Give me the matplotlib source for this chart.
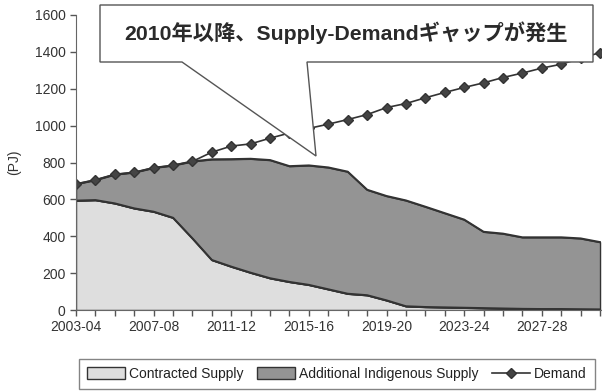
import matplotlib
matplotlib.use("Agg")
import matplotlib.pyplot as plt
import numpy as np

plt.rcParams['font.family'] = ['Liberation Sans', 'Noto Sans CJK JP', 'DejaVu Sans']

# fiscal years 2003-04 .. 2030-31
years = ["%d-%02d" % (y, (y + 1) % 100) for y in range(2003, 2031)]

contracted = [593, 596, 578, 551, 533, 500, 388, 271, 235, 202, 172, 152, 136, 112,
              88, 80, 52, 20, 16, 14, 12, 10, 8, 6, 5, 5, 4, 3]
additional = [90, 109, 157, 195, 238, 284, 418, 546, 583, 618, 641, 628, 648, 661,
              662, 572, 566, 574, 544, 511, 478, 414, 406, 388, 389, 389, 384, 365]
demand = [683, 705, 735, 746, 771, 784, 806, 856, 889, 901, 932, 960, 985, 1008,
          1033, 1060, 1098, 1120, 1151, 1180, 1207, 1232, 1261, 1285, 1312, 1333, 1365, 1396]

series_names = ["Contracted Supply", "Additional Indigenous Supply", "Demand"]
callout_text = "2010年以降、Supply-Demandギャップが発生"

W, H = 602, 392
fig = plt.figure(figsize=(W / 100, H / 100), dpi=100)
ax = fig.add_axes([76 / W, 1 - 310 / H, 525 / W, 295 / H])

x = np.arange(len(years))
total = np.array(contracted) + np.array(additional)

ax.fill_between(x, 0, contracted, color="#dedede", lw=0, label=series_names[0])
ax.fill_between(x, contracted, total, color="#949494", lw=0, label=series_names[1])
ax.plot(x, contracted, color="#333333", lw=1.5)
ax.plot(x, total, color="#333333", lw=1.5)
ax.plot(x, demand, color="#333333", lw=1.2, marker="D", ms=5.5,
        markerfacecolor="#444444", markeredgecolor="#333333", label=series_names[2])

ax.set_xlim(0, len(years) - 0.95)
ax.set_ylim(0, 1600)
ax.set_yticks(range(0, 1601, 200))
ax.set_xticks(x)
ax.set_xticklabels([y if i % 4 == 0 else "" for i, y in enumerate(years)])
ax.tick_params(axis="both", colors="#555555", labelcolor="#333333", labelsize=10,
               length=4, width=1)
for s in ["top", "right"]:
    ax.spines[s].set_visible(False)
for s in ["left", "bottom"]:
    ax.spines[s].set_color("#666666")
ax.set_ylabel("(PJ)", fontsize=10, color="#333333", labelpad=10)

# callout box with pointer
pts = [(100, 5), (593, 5), (593, 62), (307, 62), (316, 156), (182, 62), (100, 62)]
poly = plt.Polygon([(px / W, 1 - py / H) for px, py in pts], closed=True,
                   transform=fig.transFigure, facecolor="white",
                   edgecolor="#555555", lw=1, zorder=5)
fig.patches.append(poly)
fig.text(346 / W, 1 - 33 / H, callout_text, ha="center", va="center",
         fontsize=15.3, fontweight="bold", color="#2a2a2a", zorder=6)

h, l = ax.get_legend_handles_labels()
for p in h[:2]:
    p.set_edgecolor("#333333")
    p.set_linewidth(1)
leg = fig.legend(h, l, loc="center", bbox_to_anchor=(337 / W, 1 - 374 / H), ncol=3,
                 fontsize=10, frameon=True, fancybox=False, edgecolor="#666666",
                 handlelength=2.7, handleheight=0.9, columnspacing=1.0,
                 handletextpad=0.3, borderpad=0.6)
leg.get_frame().set_linewidth(1)
for t in leg.get_texts():
    t.set_color("#222222")

fig.savefig("out.png", dpi=100)
